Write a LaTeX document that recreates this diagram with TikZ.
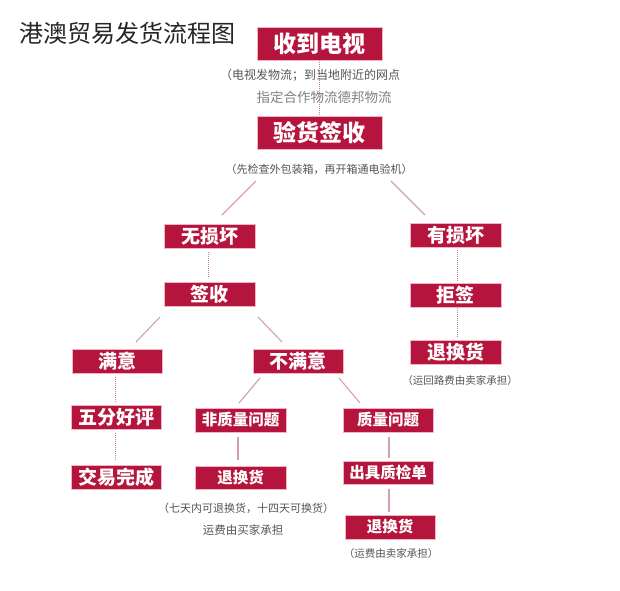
\documentclass[tikz,border=0pt]{standalone}
\usepackage{fontspec}
\setmainfont{Noto Sans CJK SC}
\newfontfamily\cjk{Noto Sans CJK SC}
\definecolor{boxred}{RGB}{181,20,60}
\definecolor{boxedge}{RGB}{240,180,195}
\definecolor{linec}{RGB}{210,160,172}
\definecolor{dotc}{RGB}{185,130,145}
\definecolor{notec}{RGB}{85,85,85}
\definecolor{notelight}{RGB}{130,130,130}
\tikzset{
  redbox/.style={fill=boxred, draw=boxedge, line width=0.8pt, text=white, inner sep=0pt},
  bigbox/.style={redbox, minimum width=125pt, minimum height=33pt,
    font=\cjk\bfseries\fontsize{23}{23}\selectfont, text height=20.2pt, text depth=2.8pt},
  midbox/.style={redbox, minimum width=91pt, minimum height=24pt,
    font=\cjk\bfseries\fontsize{19}{19}\selectfont, text height=16.7pt, text depth=2.3pt},
  smallbox/.style={redbox, minimum width=91pt, minimum height=24pt,
    font=\cjk\bfseries\fontsize{15.5}{15.5}\selectfont, text height=13.6pt, text depth=1.9pt},
  note/.style={text=notec, inner sep=0pt, text height=9.7pt, text depth=1.3pt},
  solidlink/.style={draw=linec, line width=1.1pt},
  dotlink/.style={draw=dotc, line width=1pt, densely dotted},
}
\begin{document}
\begin{tikzpicture}[x=1pt,y=-1pt]
\useasboundingbox (0,0) rectangle (620,590);
\fill[white] (0,0) rectangle (620,590);

% title
\node[anchor=west, inner sep=0pt, text=black!85, font=\cjk\fontsize{24}{24}\selectfont,
  text height=21.1pt, text depth=2.9pt] (title) at (19,33) {港澳贸易发货流程图};

% boxes
\node[bigbox] (b1) at (319.5,43.5) {收到电视};
\node[bigbox] (b2) at (319.5,133) {验货签收};
\node[midbox] (b3) at (209.5,236) {无损坏};
\node[midbox] (b4) at (209.5,294.5) {签收};
\node[midbox] (b5) at (455.5,235.5) {有损坏};
\node[midbox] (b6) at (455.5,295) {拒签};
\node[midbox] (b7) at (455.5,352.5) {退换货};
\node[midbox, minimum width=90pt] (b8) at (117,361) {满意};
\node[midbox, minimum width=90pt] (b9) at (116,417) {五分好评};
\node[midbox, minimum width=90pt] (b10) at (116,477) {交易完成};
\node[midbox, minimum width=90pt] (b11) at (298,361) {不满意};
\node[smallbox] (b12) at (240.5,420) {非质量问题};
\node[smallbox, minimum height=23pt] (b13) at (240.5,477.5) {退换货};
\node[smallbox, minimum width=90pt] (b14) at (388,420) {质量问题};
\node[smallbox, minimum width=90pt, minimum height=23pt] (b15) at (388,472.5) {出具质检单};
\node[smallbox, minimum width=90pt] (b16) at (390,527) {退换货};

% vertical dotted b1 -> b2 (behind the notes)
\draw[dotlink] (b1.south) -- (b2.north);

% notes
\node[note, font=\cjk\fontsize{12}{12}\selectfont, anchor=west] (t1) at (220,75) {（电视发物流；到当地附近的网点};
\node[note, text=notelight, font=\cjk\fontsize{13.5}{13.5}\selectfont, text height=11.9pt, text depth=1.6pt] (t2) at (324,97) {指定合作物流德邦物流};
\node[note, font=\cjk\fontsize{11}{11}\selectfont] (t3) at (319,169) {（先检查外包装箱，再开箱通电验机）};
\node[note, font=\cjk\fontsize{10.5}{10.5}\selectfont] (t4) at (460,380) {（运回路费由卖家承担）};
\node[note, font=\cjk\fontsize{11}{11}\selectfont] (t5) at (246,508) {（七天内可退换货，十四天可换货）};
\node[note, font=\cjk\fontsize{11.5}{11.5}\selectfont] (t6) at (243,530) {运费由买家承担};
\node[note, font=\cjk\fontsize{10.5}{10.5}\selectfont] (t7) at (391,553) {（运费由卖家承担）};

% link end points
\coordinate (l1a) at (256,181); \coordinate (l1b) at (222,215);
\coordinate (l2a) at (391,181); \coordinate (l2b) at (425,215);
\coordinate (l3a) at (160,317); \coordinate (l3b) at (136,342);
\coordinate (l4a) at (258,317); \coordinate (l4b) at (282,342);
\coordinate (l5a) at (260,378); \coordinate (l5b) at (239,403);
\coordinate (l6a) at (339,378); \coordinate (l6b) at (360,403);

\draw[solidlink] (l1a) -- (l1b);
\draw[solidlink] (l2a) -- (l2b);
\draw[solidlink] (l3a) -- (l3b);
\draw[solidlink] (l4a) -- (l4b);
\draw[solidlink] (l5a) -- (l5b);
\draw[solidlink] (l6a) -- (l6b);

\draw[dotlink, shorten <=4pt, shorten >=4pt] (b3.south -| 208,0) -- (b4.north -| 208,0);
\draw[dotlink, shorten <=2pt, shorten >=1pt] (b5.south -| 457,0) -- (b6.north -| 457,0);
\draw[dotlink, shorten <=1pt, shorten >=3pt] (b6.south -| 457,0) -- (b7.north -| 457,0);
\draw[dotlink, shorten <=4pt, shorten >=3pt] (b8.south -| 115,0) -- (b9.north -| 115,0);
\draw[dotlink, shorten <=4pt, shorten >=4pt] (b9.south -| 115,0) -- (b10.north -| 115,0);
\draw[solidlink, shorten <=5pt, shorten >=6pt] (b12.south -| 238,0) -- (b13.north -| 238,0);
\draw[solidlink, shorten <=5pt, shorten >=3pt] (b14.south -| 389,0) -- (b15.north -| 389,0);
\draw[solidlink, shorten <=5pt, shorten >=3pt] (b15.south -| 389,0) -- (b16.north -| 389,0);
\end{tikzpicture}
\end{document}
